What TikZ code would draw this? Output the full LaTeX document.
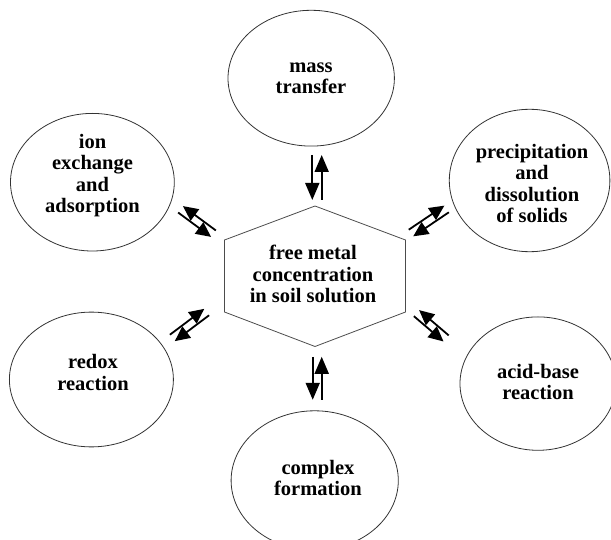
\documentclass[tikz,border=0pt]{standalone}
\usepackage{fontspec}
\setmainfont{Liberation Serif}
\usetikzlibrary{shapes.geometric,arrows.meta}
\newcommand{\eqpair}[6]{% #1 name, #2 center, #3 angle, #4 half length, #5 offset, #6 tip style
  \begin{scope}[shift={#2}, rotate=#3]
    \coordinate (#1a1) at ({-#4},{#5});
    \coordinate (#1a2) at ({#4},{#5});
    \coordinate (#1b1) at ({#4},{-(#5)});
    \coordinate (#1b2) at ({-#4},{-(#5)});
    \draw[#6] (#1a1) -- (#1a2);
    \draw[#6] (#1b1) -- (#1b2);
  \end{scope}}
\begin{document}
\begin{tikzpicture}[x=1pt,y=1pt,
  bubble/.style={draw=black!80, line width=0.8pt, ellipse, inner sep=0pt, align=center},
  lbl/.style={align=center, font=\fontsize{20.5}{21.5}\selectfont\bfseries, inner sep=0pt},
  bigtip/.style={line width=1.8pt, -{Triangle[length=17pt,width=14pt]}},
  smalltip/.style={line width=1.8pt, -{Triangle[length=15pt,width=14pt]}},
  hexline/.style={draw=black!70, line width=0.8pt}]
\useasboundingbox (0,0) rectangle (611,539);
\clip (0,0) rectangle (611,539);
% ellipses
\node[bubble, minimum width=166.4pt, minimum height=135.8pt] (mass) at (311.2,460.8) {};
\node[bubble, minimum width=163.8pt, minimum height=137.6pt] (ion) at (92.4,356.8) {};
\node[bubble, minimum width=160.6pt, minimum height=142.4pt] (prec) at (529.6,358.5) {};
\node[bubble, minimum width=164pt, minimum height=134.8pt] (redox) at (91.4,159.5) {};
\node[bubble, minimum width=156pt, minimum height=133.4pt] (acid) at (538,155.4) {};
\node[bubble, minimum width=167.2pt, minimum height=139.4pt] (cplx) at (314.7,58.5) {};
% labels
\node[lbl] (tmass) at (311,460.5) {mass\\transfer};
\node[lbl] (tion) at (92.5,363.5) {ion\\exchange\\and\\adsorption};
\node[lbl] (tprec) at (532,355.5) {precipitation\\and\\dissolution\\of solids};
\node[lbl] (tredox) at (93,166.5) {redox\\reaction};
\node[lbl] (tacid) at (538,157) {acid-base\\reaction};
\node[lbl] (tcplx) at (318,61) {complex\\formation};
% hexagon
\coordinate (h1) at (315,333);
\coordinate (h2) at (224.5,299);
\coordinate (h3) at (224.5,227);
\coordinate (h4) at (315,192.5);
\coordinate (h5) at (405.5,227);
\coordinate (h6) at (405.5,299);
\draw[hexline] (h1) -- (h2) -- (h3) -- (h4) -- (h5) -- (h6) -- cycle;
\node[lbl] (tcenter) at (313,264.7) {free metal\\concentration\\in soil solution};
% equilibrium arrows
\eqpair{top}{(317,361.5)}{-90}{22.5}{-4.7}{bigtip}
\eqpair{bot}{(317.2,160.7)}{-90}{21.5}{-4.5}{bigtip}
\eqpair{ul}{(197,317.5)}{143.5}{20.5}{-4}{smalltip}
\eqpair{ur}{(428.8,318)}{34}{21.5}{4}{smalltip}
\eqpair{ll}{(189.5,214)}{37}{21.5}{4}{smalltip}
\eqpair{lr}{(431.3,213.2)}{139.5}{19.5}{-4}{smalltip}
\end{tikzpicture}
\end{document}
